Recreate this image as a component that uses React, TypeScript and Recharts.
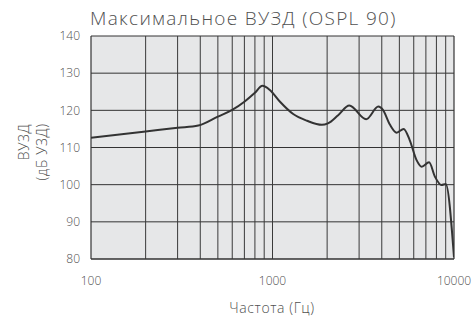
import React from 'react';
import { LineChart, Line, XAxis, YAxis, CartesianGrid, ReferenceLine } from 'recharts';

// Частота (Гц) и ВУЗД (дБ УЗД)
const freqs = [100, 200, 300, 390, 500, 600, 700, 800, 880, 970, 1100, 1300, 1550, 1870, 2020, 2300, 2650, 3280, 3830, 4060, 4440, 4830, 5280, 5700, 6220, 6640, 7290, 7860, 8530, 9000, 10000];
const ospl = [112.6, 114.3, 115.3, 115.9, 118.3, 120.1, 122.3, 124.7, 126.6, 125.4, 122.3, 119.0, 117.2, 116.1, 116.5, 118.7, 121.3, 117.6, 121.0, 120.1, 116.1, 114.0, 115.0, 112.0, 106.6, 104.8, 106.0, 102.1, 99.9, 100.2, 80.5];

const xTicks = [100, 1000, 10000];
const yTicks = [80, 90, 100, 110, 120, 130, 140];
const gridFreqs = [200, 300, 400, 500, 600, 700, 800, 900, 1000, 2000, 3000, 4000, 5000, 6000, 7000, 8000, 9000];

const data = freqs.map((f, i) => ({ f, v: ospl[i] }));

const font = '"Open Sans", sans-serif';
const textColor = '#505050';

const App: React.FC = () => {
  return (
    <div style={{ position: 'absolute', left: 0, top: 0, width: 472, height: 321, fontFamily: font, color: textColor }}>
      <div style={{ position: 'absolute', left: 90, top: 5, fontSize: 19, fontWeight: 300, letterSpacing: 1.3, whiteSpace: 'nowrap', lineHeight: '26px' }}>
        Максимальное ВУЗД (OSPL 90)
      </div>
      <div style={{ position: 'absolute', left: 23, top: 142, transform: 'translate(-50%, -50%) rotate(-90deg)', fontSize: 14, fontWeight: 300, letterSpacing: 0.6, whiteSpace: 'nowrap' }}>
        ВУЗД
      </div>
      <div style={{ position: 'absolute', left: 41, top: 152, transform: 'translate(-50%, -50%) rotate(-90deg)', fontSize: 14, fontWeight: 300, letterSpacing: 0.6, whiteSpace: 'nowrap' }}>
        (дБ УЗД)
      </div>
      <div style={{ position: 'absolute', left: 272, top: 307, transform: 'translate(-50%, -50%)', fontSize: 14, fontWeight: 300, letterSpacing: 0.6, whiteSpace: 'nowrap' }}>
        Частота (Гц)
      </div>
      <LineChart width={472} height={321} data={data} margin={{ top: 36, right: 18, bottom: 0, left: 0 }}>
        <CartesianGrid vertical={false} stroke="#333" fill="#e6e7e8" />
        {gridFreqs.map((g) => (
          <ReferenceLine key={g} x={g} stroke="#3a3a3a" strokeWidth={1} />
        ))}
        <ReferenceLine x={10000} stroke="#333" strokeWidth={1.2} />
        <XAxis
          dataKey="f"
          type="number"
          scale="log"
          domain={[100, 10000]}
          ticks={xTicks}
          height={62}
          tickLine={false}
          tickMargin={11}
          axisLine={{ stroke: '#333', strokeWidth: 1.2 }}
          tick={{ fill: textColor, fontSize: 12, fontFamily: font, fontWeight: 300 }}
          allowDataOverflow
        />
        <YAxis
          type="number"
          domain={[80, 140]}
          ticks={yTicks}
          width={91}
          tickLine={false}
          tickMargin={5}
          axisLine={{ stroke: '#333', strokeWidth: 1.2 }}
          tick={{ fill: textColor, fontSize: 12, fontFamily: font, fontWeight: 300 }}
        />
        <Line
          type="monotone"
          dataKey="v"
          stroke="#333"
          strokeWidth={2}
          dot={false}
          activeDot={false}
          isAnimationActive={false}
        />
      </LineChart>
    </div>
  );
};

export default App;
